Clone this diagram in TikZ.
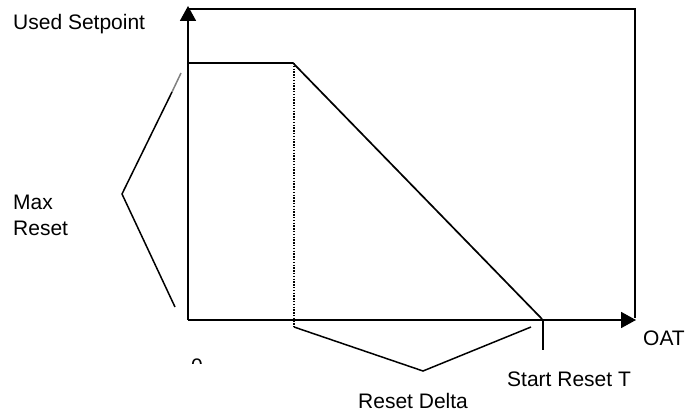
\documentclass[tikz,border=0pt]{standalone}
\usepackage{fontspec}
\setmainfont{Liberation Sans}
\usetikzlibrary{arrows.meta}
\begin{document}
\begin{tikzpicture}[x=1pt,y=-1pt,
  axis/.style={line width=1.8pt,-{Triangle[length=15pt,width=16pt]}},
  edge/.style={line width=1.7pt},
  thin/.style={line width=1.5pt},
  lbl/.style={anchor=base west,inner sep=0pt,font=\fontsize{21}{25}\selectfont}]
\useasboundingbox (0,0) rectangle (685,414);
% key points
\coordinate (O) at (188,320);
\coordinate (Ytop) at (188,6);
\coordinate (Xend) at (636,320);
\coordinate (TL) at (188,9);
\coordinate (TR) at (635,9);
\coordinate (BR) at (635,318);
\coordinate (P0) at (188,63);
\coordinate (P1) at (293,63);
\coordinate (P2) at (542,319);
\coordinate (D0) at (294,63);
\coordinate (D1) at (294,327);
\coordinate (T0) at (543,320);
\coordinate (T1) at (543,350);
\coordinate (L0) at (181,73);
\coordinate (L1) at (172,92);
\coordinate (LV) at (122,194);
\coordinate (L2) at (175,307);
\coordinate (B0) at (294,327);
\coordinate (BV) at (423,371);
\coordinate (B1) at (531,327);
% frame and axes
\draw[edge] (TL) -- (TR) -- (BR);
\draw[axis] (O) -- (Ytop);
\draw[axis] (O) -- (Xend);
% setpoint curve
\draw[edge] (P0) -- (P1) -- (P2);
\draw[line width=1.4pt,dash pattern=on 1.4pt off 1.4pt] (D0) -- (D1);
\draw[thin] (T0) -- (T1);
% braces
\draw[thin,gray] (L0) -- (L1);
\draw[thin] (L1) -- (LV) -- (L2);
\draw[thin] (B0) -- (BV) -- (B1);
% labels
\node[lbl] (us) at (13,30) {Used Setpoint};
\node[lbl] (mx) at (13,209) {Max};
\node[lbl] (rs) at (13,235) {Reset};
\node[lbl] (oat) at (643,345) {OAT};
\node[lbl] (srt) at (507,386) {Start Reset T};
\node[lbl] (rd) at (358,408) {Reset Delta};
\begin{scope}
\clip (185,350) rectangle (210,363.5);
\node[lbl] (zero) at (191,373) {0};
\end{scope}
\end{tikzpicture}
\end{document}
